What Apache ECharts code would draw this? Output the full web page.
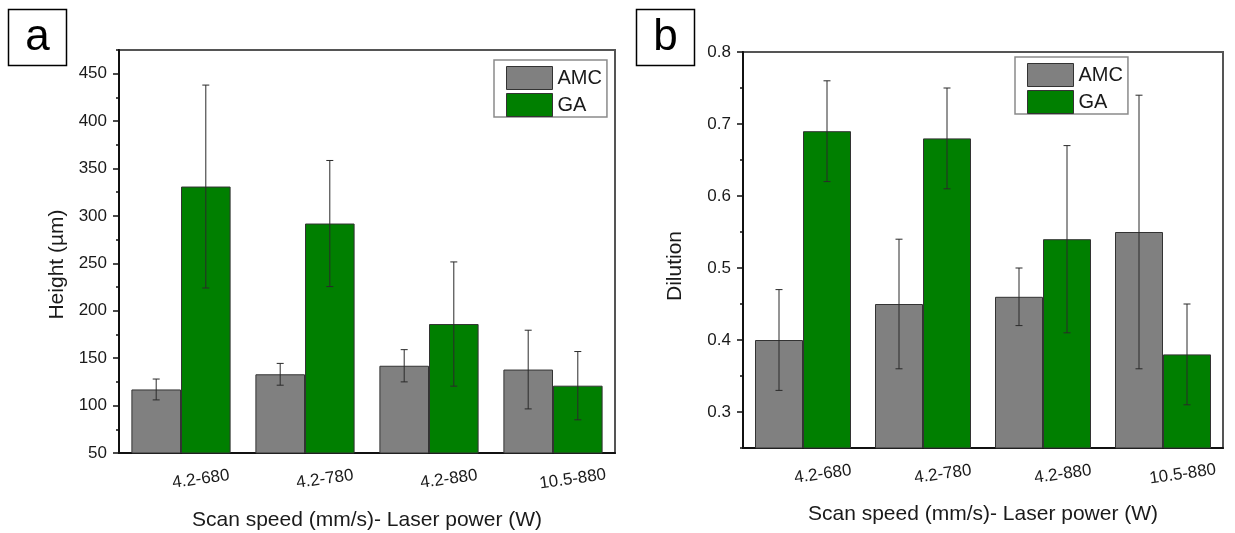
<!DOCTYPE html>
<html>
<head>
<meta charset="utf-8">
<script src="https://cdn.jsdelivr.net/npm/echarts@6/dist/echarts.min.js"></script>
<style>
  html, body { margin: 0; padding: 0; background: #fff; }
  #chart { width: 1235px; height: 533px; }
</style>
</head>
<body>
<div id="chart"></div>
<script>
// categories: scan speed (mm/s) - laser power (W)
const categories = ['4.2-680', '4.2-780', '4.2-880', '10.5-880']

// panel a: bead height (µm)
const heightAMC = [117, 133, 142, 138]
const heightAMCErr = [11, 11.5, 17, 41.5]
const heightGA = [331, 292, 186, 121]
const heightGAErr = [107, 66.5, 65.5, 36]

// panel b: dilution
const dilutionAMC = [0.40, 0.45, 0.46, 0.55]
const dilutionAMCErr = [0.07, 0.09, 0.04, 0.19]
const dilutionGA = [0.69, 0.68, 0.54, 0.38]
const dilutionGAErr = [0.07, 0.07, 0.13, 0.07]

const FONT = '"Liberation Sans", Arial, sans-serif'
const TXT = '#1a1a1a'
const GRAY = '#808080'
const GREEN = '#007f00'

const chart = echarts.init(document.getElementById('chart'))

// error bar drawn at the centre of the left (-1) or right (+1) bar of a group
function errorBar(side) {
  return function (params, api) {
    const i = api.value(0)
    const band = api.size([1, 0])[0]
    const x = api.coord([i, 0])[0] + side * band * 0.2
    const hi = api.coord([i, api.value(1) + api.value(2)])[1]
    const lo = api.coord([i, api.value(1) - api.value(2)])[1]
    const cap = 3.5
    const style = { stroke: '#2a2a2a', lineWidth: 1 }
    return {
      type: 'group',
      children: [
        { type: 'line', shape: { x1: x, y1: hi, x2: x, y2: lo }, style },
        { type: 'line', shape: { x1: x - cap, y1: hi, x2: x + cap, y2: hi }, style },
        { type: 'line', shape: { x1: x - cap, y1: lo, x2: x + cap, y2: lo }, style },
      ],
    }
  }
}

function errData(vals, errs) {
  return vals.map((v, i) => [i, v, errs[i]])
}

function mainX(grid, nameGap) {
  return {
    type: 'category', gridIndex: grid, position: 'bottom', data: categories,
    axisLine: { lineStyle: { color: '#111', width: 2 } },
    axisTick: { alignWithLabel: true, length: 9, lineStyle: { color: '#111', width: 1.5 } },
    axisLabel: {
      interval: 0, rotate: 8, align: 'center', margin: 29, padding: [0, 0, 0, 40],
      fontSize: 17, color: TXT, fontFamily: FONT,
    },
    name: 'Scan speed (mm/s)- Laser power (W)', nameLocation: 'middle', nameGap,
    nameTextStyle: { fontSize: 21, color: TXT, fontFamily: FONT },
  }
}

function minorX(grid) {
  return {
    type: 'category', gridIndex: grid, position: 'bottom', data: categories,
    axisLine: { show: false },
    axisTick: { length: 4, lineStyle: { color: '#111', width: 1.5 } },
    axisLabel: { show: false },
  }
}

function minorY(grid, min, max, interval) {
  return {
    type: 'value', gridIndex: grid, position: 'left', min, max, interval,
    axisLine: { show: false },
    axisTick: { show: true, length: 3, lineStyle: { color: '#111', width: 1.5 } },
    axisLabel: { show: false },
    splitLine: { show: false },
  }
}

function legend(left, top) {
  return {
    data: ['AMC', 'GA'], orient: 'vertical', left, top, selectedMode: false,
    itemWidth: 46, itemHeight: 23, itemGap: 3, padding: [6, 5, 0, 12],
    borderColor: '#8a8a8a', borderWidth: 1.5, icon: 'rect',
    itemStyle: { borderColor: '#333', borderWidth: 1 },
    textStyle: { fontSize: 20, color: TXT, fontFamily: FONT },
  }
}

const barStyle = (c) => ({ color: c, borderColor: '#333', borderWidth: 1 })

chart.setOption({
  animation: false,
  textStyle: { fontFamily: FONT },
  grid: [
    { left: 119, top: 50, width: 496, height: 403, outerBoundsMode: 'none', containLabel: false, show: true, borderColor: '#555', borderWidth: 2 },
    { left: 743, top: 52, width: 480, height: 396, outerBoundsMode: 'none', containLabel: false, show: true, borderColor: '#555', borderWidth: 2 },
  ],
  legend: [legend(494, 60), legend(1015, 57)],
  graphic: [
    { type: 'rect', shape: { x: 8.5, y: 9.5, width: 58, height: 56 }, style: { fill: '#fff', stroke: '#000', lineWidth: 1.5 } },
    { type: 'text', x: 37.5, y: 37.5, style: { text: 'a', fontSize: 44, fontFamily: FONT, fill: '#000', align: 'center', verticalAlign: 'middle' } },
    { type: 'rect', shape: { x: 636.5, y: 9.5, width: 58, height: 56 }, style: { fill: '#fff', stroke: '#000', lineWidth: 1.5 } },
    { type: 'text', x: 665.5, y: 37.5, style: { text: 'b', fontSize: 44, fontFamily: FONT, fill: '#000', align: 'center', verticalAlign: 'middle' } },
  ],
  xAxis: [mainX(0, 57), minorX(0), mainX(1, 56), minorX(1)],
  yAxis: [
    {
      type: 'value', gridIndex: 0, position: 'left', min: 50, max: 475, interval: 50,
      axisLine: { show: true, lineStyle: { color: '#111', width: 2 } },
      axisTick: { show: true, length: 6, lineStyle: { color: '#111', width: 1.5 } },
      axisLabel: { showMaxLabel: false, margin: 12, fontSize: 17, color: TXT, fontFamily: FONT },
      splitLine: { show: false },
      name: 'Height (µm)', nameLocation: 'middle', nameGap: 51,
      nameTextStyle: { fontSize: 21, color: TXT, fontFamily: FONT, padding: [0, 26, 0, 0] },
    },
    minorY(0, 50, 475, 25),
    {
      type: 'value', gridIndex: 1, position: 'left', min: 0.25, max: 0.8,
      minInterval: 0.1, maxInterval: 0.1,
      axisLine: { show: true, lineStyle: { color: '#111', width: 2 } },
      axisTick: { show: true, length: 6, lineStyle: { color: '#111', width: 1.5 } },
      axisLabel: { showMinLabel: false, margin: 12, fontSize: 17, color: TXT, fontFamily: FONT },
      splitLine: { show: false },
      name: 'Dilution', nameLocation: 'middle', nameGap: 57,
      nameTextStyle: { fontSize: 21, color: TXT, fontFamily: FONT, padding: [0, 32, 0, 0] },
    },
    minorY(1, 0.25, 0.8, 0.05),
  ],
  series: [
    { name: 'AMC', type: 'bar', xAxisIndex: 0, yAxisIndex: 0, data: heightAMC, barWidth: '40%', barGap: '0%', itemStyle: barStyle(GRAY) },
    { name: 'GA', type: 'bar', xAxisIndex: 0, yAxisIndex: 0, data: heightGA, barWidth: '40%', barGap: '0%', itemStyle: barStyle(GREEN) },
    { type: 'custom', xAxisIndex: 0, yAxisIndex: 0, z: 5, renderItem: errorBar(-1), data: errData(heightAMC, heightAMCErr), encode: { x: 0, y: 1 } },
    { type: 'custom', xAxisIndex: 0, yAxisIndex: 0, z: 5, renderItem: errorBar(1), data: errData(heightGA, heightGAErr), encode: { x: 0, y: 1 } },

    { name: 'AMC', type: 'bar', xAxisIndex: 2, yAxisIndex: 2, data: dilutionAMC, barWidth: '40%', barGap: '0%', itemStyle: barStyle(GRAY) },
    { name: 'GA', type: 'bar', xAxisIndex: 2, yAxisIndex: 2, data: dilutionGA, barWidth: '40%', barGap: '0%', itemStyle: barStyle(GREEN) },
    { type: 'custom', xAxisIndex: 2, yAxisIndex: 2, z: 5, renderItem: errorBar(-1), data: errData(dilutionAMC, dilutionAMCErr), encode: { x: 0, y: 1 } },
    { type: 'custom', xAxisIndex: 2, yAxisIndex: 2, z: 5, renderItem: errorBar(1), data: errData(dilutionGA, dilutionGAErr), encode: { x: 0, y: 1 } },
  ],
})
</script>
</body>
</html>
